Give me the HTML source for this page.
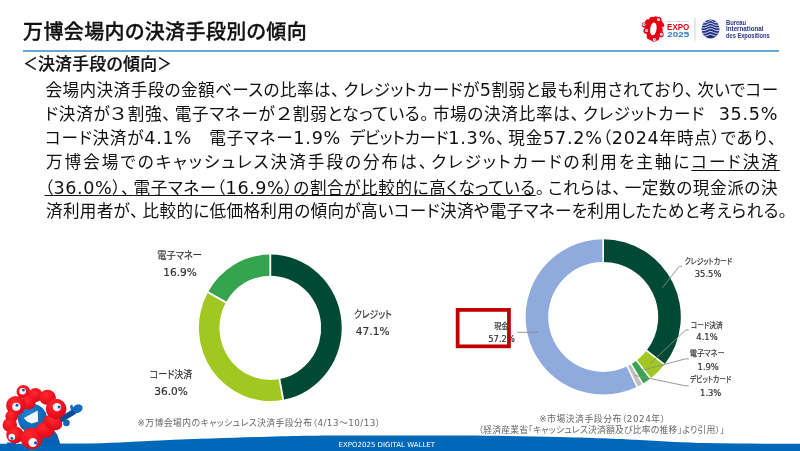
<!DOCTYPE html>
<html lang="ja">
<head>
<meta charset="utf-8">
<title>万博会場内の決済手段別の傾向</title>
<style>
html,body{margin:0;padding:0;background:#fff;}
body{width:800px;height:451px;overflow:hidden;position:relative;font-family:"Liberation Sans","Noto Sans CJK JP",sans-serif;color:#111;}
.abs{position:absolute;white-space:nowrap;}
#title{left:23px;top:17px;font-size:20px;line-height:30px;font-weight:500;-webkit-text-stroke:0.3px #111;letter-spacing:0.4px;font-feature-settings:"palt";color:#111;}
#rule{left:22.8px;top:50px;width:755.8px;height:2px;background:#68a6d8;}
#sub{left:23.2px;top:53px;letter-spacing:0.25px;font-size:16.9px;line-height:24px;font-weight:500;-webkit-text-stroke:0.2px #111;font-feature-settings:"palt";}
#sub .b{display:inline-block;transform:scaleX(0.85);margin:0 -1.2px;}
.ln{left:45px;font-size:16.6px;line-height:24px;height:24px;font-family:"DejaVu Sans","Noto Sans CJK JP",sans-serif;font-feature-settings:"palt";color:#111;}
.c{letter-spacing:4px;}
.fw{font-feature-settings:normal;display:inline-block;transform:scale(1.25,1.06);}
.d{font-size:17.6px;}
.u{text-decoration:underline;text-decoration-thickness:1px;text-underline-offset:2px;}
#l5 .u{text-underline-offset:0.5px;}
.lb{width:120px;margin-left:-60px;height:14px;line-height:14px;text-align:center;color:#333;-webkit-text-stroke:0.2px #333;font-family:"DejaVu Sans","Noto Sans CJK JP",sans-serif;font-feature-settings:"palt";}
.lb span{display:inline-block;transform-origin:50% 50%;}
.nt{width:400px;margin-left:-200px;height:14px;line-height:14px;text-align:center;color:#666;font-size:8.8px;font-family:"DejaVu Sans","Noto Sans CJK JP",sans-serif;font-feature-settings:"palt";}
.nt span{display:inline-block;}
</style>
</head>
<body>
<div id="title" class="abs">万博会場内の決済手段別の傾向</div>
<div id="rule" class="abs"></div>
<div id="sub" class="abs"><span class="b">＜</span>決済手段の傾向<span class="b">＞</span></div>

<div class="abs ln" id="l1" style="top:78px;left:45.6px;letter-spacing:0.413px">会場内決済手段の金額ベースの比率は<span class="c">、</span>クレジットカードが<span class="d">5</span>割弱と最も利用されており<span class="c">、</span>次いでコー</div>
<div class="abs ln" id="l2" style="top:102px;left:45.0px;letter-spacing:0.717px">ド決済が<span class="fw">３</span>割強<span class="c">、</span>電子マネーが<span class="fw">２</span>割弱となっている<span class="c">。</span>市場の決済比率は<span class="c">、</span>クレジットカード<span style="letter-spacing:-3px">　</span><span class="d">35.5%</span></div>
<div class="abs ln" id="l3" style="top:126px;left:45.0px;letter-spacing:0.755px">コード決済が<span class="d">4.1%</span>　電子マネー<span class="d">1.9%</span><span style="letter-spacing:-8px">　</span><span style="letter-spacing:-0.4px">デビットカード</span><span class="d">1.3%</span><span class="c">、</span>現金<span class="d">57.2%</span>（<span class="d">2024</span>年時点）であり<span class="c">、</span></div>
<div class="abs ln" id="l4" style="top:151px;left:46.0px;letter-spacing:2.010px">万博会場でのキャッシュレス決済手段の分布は<span class="c">、</span>クレジットカードの利用を主軸に<span class="u">コード決済</span></div>
<div class="abs ln" id="l5" style="top:176px;left:44.6px;letter-spacing:0.585px"><span class="u">（<span class="d">36.0%</span>）<span class="c">、</span>電子マネー（<span class="d">16.9%</span>）の割合が比較的に高くなっている</span><span class="c">。</span>これらは<span class="c">、</span>一定数の現金派の決</div>
<div class="abs ln" id="l6" style="top:200px;left:46.0px;letter-spacing:0.323px">済利用者が<span class="c">、</span>比較的に低価格利用の傾向が高いコード決済や電子マネーを利用したためと考えられる<span class="c">。</span></div>

<svg class="abs" style="left:0;top:0" width="800" height="451" viewBox="0 0 800 451">
  <!--DONUTS-->
  <path d="M270.30,254.60 A71.4,73.2 0 0 1 283.24,399.79 L279.51,379.04 A50.85,52.1 0 0 0 270.30,275.70 Z" fill="#004932"/>
  <path d="M283.24,399.79 A71.4,73.2 0 0 1 207.95,292.13 L225.89,302.41 A50.85,52.1 0 0 0 279.51,379.04 Z" fill="#a1c820"/>
  <path d="M207.95,292.13 A71.4,73.2 0 0 1 270.30,254.60 L270.30,275.70 A50.85,52.1 0 0 0 225.89,302.41 Z" fill="#34a44e"/>
  <line x1="270.30" y1="253.60" x2="270.30" y2="276.70" stroke="#fff" stroke-width="1.8"/>
  <line x1="283.42" y1="400.77" x2="279.33" y2="378.05" stroke="#fff" stroke-width="1.8"/>
  <line x1="207.08" y1="291.65" x2="226.77" y2="302.90" stroke="#fff" stroke-width="1.8"/>
  <path d="M603.20,239.30 A77.6,77.6 0 0 1 664.52,364.46 L646.66,350.61 A55.0,55.0 0 0 0 603.20,261.90 Z" fill="#004932"/>
  <path d="M664.52,364.46 A77.6,77.6 0 0 1 650.38,378.51 L636.64,360.57 A55.0,55.0 0 0 0 646.66,350.61 Z" fill="#a1c820"/>
  <path d="M650.38,378.51 A77.6,77.6 0 0 1 642.70,383.69 L631.20,364.24 A55.0,55.0 0 0 0 636.64,360.57 Z" fill="#34a44e"/>
  <path d="M642.70,383.69 A77.6,77.6 0 0 1 637.12,386.69 L627.24,366.37 A55.0,55.0 0 0 0 631.20,364.24 Z" fill="#bfbfbf"/>
  <path d="M637.12,386.69 A77.6,77.6 0 1 1 603.20,239.30 L603.20,261.90 A55.0,55.0 0 1 0 627.24,366.37 Z" fill="#8faadc"/>
  <line x1="603.20" y1="238.30" x2="603.20" y2="262.90" stroke="#fff" stroke-width="1.6"/>
  <line x1="665.31" y1="365.07" x2="645.87" y2="350.00" stroke="#fff" stroke-width="1.6"/>
  <line x1="650.98" y1="379.31" x2="636.03" y2="359.78" stroke="#fff" stroke-width="1.6"/>
  <line x1="643.21" y1="384.55" x2="630.69" y2="363.38" stroke="#fff" stroke-width="1.6"/>
  <line x1="637.56" y1="387.59" x2="626.80" y2="365.47" stroke="#fff" stroke-width="1.6"/>
  <!--/DONUTS-->
  <!-- leader lines -->
  <g fill="none" stroke="#8c8c8c" stroke-width="0.9">
    <polyline points="682,266.3 679.3,266.3 662.5,287.7"/>
    <polyline points="688.8,329.9 685.8,329.9 649.9,363.8"/>
    <polyline points="688.8,358.9 685.4,358.9 639.9,370.8"/>
    <polyline points="688.8,385.8 685.4,385.8 635,375.4"/>
    <polyline points="517.2,332.3 538.2,332.3"/>
  </g>
  <!--ART-->
  <g fill="#e60012"><circle cx="652.0" cy="19.6" r="2.8"/><circle cx="658.4" cy="20.0" r="3.2"/><circle cx="661.8" cy="25.2" r="2.4"/><circle cx="660.0" cy="30.0" r="2.8"/><circle cx="660.8" cy="34.4" r="2.9"/><circle cx="656.4" cy="38.0" r="2.8"/><circle cx="654.0" cy="39.4" r="2.4"/><circle cx="649.6" cy="36.4" r="2.9"/><circle cx="646.4" cy="30.8" r="3.0"/><circle cx="644.4" cy="24.8" r="2.6"/><circle cx="648.0" cy="22.0" r="2.8"/><circle cx="647.2" cy="27.2" r="2.4"/><circle cx="655.6" cy="18.4" r="2.2"/><circle cx="659.2" cy="27.2" r="2.2"/><circle cx="651.2" cy="38.4" r="2.2"/><circle cx="660.8" cy="22.8" r="2.0"/></g><ellipse cx="653.4" cy="29" rx="7.6" ry="10.2" fill="#e60012" transform="rotate(10 653.4 29)"/><ellipse cx="653.4" cy="28.9" rx="3.2" ry="6.5" fill="#fff" transform="rotate(8 653.4 28.9)"/><circle cx="658.6" cy="19.4" r="1.5" fill="#fff"/><circle cx="658.9" cy="19.3" r="0.7" fill="#2a7fd0"/><circle cx="661.4" cy="34.2" r="1.5" fill="#fff"/><circle cx="661.7" cy="34.1" r="0.7" fill="#2a7fd0"/><circle cx="654.4" cy="39.4" r="1.5" fill="#fff"/><circle cx="654.7" cy="39.3" r="0.7" fill="#2a7fd0"/><circle cx="646.6" cy="30.6" r="1.5" fill="#fff"/><circle cx="646.9" cy="30.5" r="0.7" fill="#2a7fd0"/><circle cx="644.0" cy="24.6" r="1.5" fill="#fff"/><circle cx="644.3" cy="24.5" r="0.7" fill="#2a7fd0"/>
  <text x="667.3" y="22.2" font-family="Liberation Sans, sans-serif" font-size="1.9" fill="#777" textLength="21.6" lengthAdjust="spacingAndGlyphs">OSAKA, KANSAI, JAPAN</text>
  <text x="667.1" y="29.6" font-family="Liberation Sans, sans-serif" font-weight="bold" font-size="8.3" fill="#e60012" textLength="22.2" lengthAdjust="spacingAndGlyphs">EXPO</text>
  <text x="667.3" y="36.5" font-family="Liberation Sans, sans-serif" font-weight="bold" font-size="7.4" fill="#2b78c5" textLength="21.9" lengthAdjust="spacingAndGlyphs">2025</text>
  <rect x="694.5" y="17.6" width="1" height="23.2" fill="#d4d4d4"/>
  <clipPath id="biec"><ellipse cx="710.5" cy="29" rx="9" ry="9.5"/></clipPath>
  <ellipse cx="710.5" cy="29" rx="9" ry="9.5" fill="#1f2f87"/>
  <g clip-path="url(#biec)" fill="none" stroke="#fff" stroke-width="0.85">
    <path d="M700,22.6 H706.5 C708,22.6 708.5,20.6 710.5,20.6 C712.5,20.6 713,22.6 714.5,22.6 H721"/>
    <path d="M700,25.2 H705.5 C707.5,25.2 708.3,23.2 710.5,23.2 C712.7,23.2 713.5,25.2 715.5,25.2 H721"/>
    <path d="M700,27.9 H704.5 C707,27.9 708,25.9 710.5,25.9 C713,25.9 714,27.9 716.5,27.9 H721"/>
    <path d="M700,30.6 H704 C706.5,30.6 707.8,28.6 710.5,28.6 C713.2,28.6 714.5,30.6 717,30.6 H721"/>
    <path d="M700,33.3 H704.5 C707,33.3 708,31.5 710.5,31.5 C713,31.5 714,33.3 716.5,33.3 H721"/>
    <path d="M700,36 H705.5 C707.5,36 708.5,34.4 710.5,34.4 C712.5,34.4 713.5,36 715.5,36 H721"/>
  </g>
  <g font-family="Liberation Sans, sans-serif" font-weight="bold" font-size="6.3" fill="#28348a">
    <text x="726" y="25" textLength="20.2" lengthAdjust="spacingAndGlyphs">Bureau</text>
    <text x="726" y="31.4" textLength="37.5" lengthAdjust="spacingAndGlyphs">International</text>
    <text x="726" y="37.9" textLength="43.7" lengthAdjust="spacingAndGlyphs">des Expositions</text>
  </g>
  <path d="M0,443.7 L90,443.5 C120,442.6 140,441.4 160,440.5 C200,438.9 230,437.9 260,437 C300,435.9 320,435.6 345,435.6 L460,435.5 C500,435.6 530,436.2 560,437 C600,438 622,439 640,440 C665,441.4 685,442.6 705,443.1 C740,443.7 770,443.7 800,443.7 L800,451 L0,451 Z" fill="#0068b8"/>
  <defs><radialGradient id="rb" cx="40%" cy="32%" r="75%"><stop offset="0" stop-color="#ff2a2c"/><stop offset="0.6" stop-color="#ee1220"/><stop offset="1" stop-color="#cf0a18"/></radialGradient><radialGradient id="bb" cx="40%" cy="35%" r="75%"><stop offset="0" stop-color="#1f86d6"/><stop offset="1" stop-color="#0058a8"/></radialGradient></defs>
  <polygon points="36.9,427.5 52.0,427.5 57.0,434.3 60.6,444.8 36.9,444.8" fill="#0a60b0"/>
  <polygon points="6.8,442.6 15.8,442.6 16.6,449.3 9.0,449.3" fill="#0a60b0"/>
  <line x1="58.3" y1="421.2" x2="73.8" y2="411.8" stroke="#0d4a94" stroke-width="5.6" stroke-linecap="round"/>
  <ellipse cx="77.6" cy="408.7" rx="5.2" ry="4.1" fill="#0f6cc2" transform="rotate(-25 77.6 408.7)"/>
  <ellipse cx="71.7" cy="407.6" rx="1.5" ry="3" fill="#0f6cc2" transform="rotate(-10 71.7 407.6)"/>
  <circle cx="66.4" cy="422.9" r="3.3" fill="#1267b8"/>
  <circle cx="32.4" cy="418.4" r="14.5" fill="url(#bb)"/>
  <polygon points="23.8,418.0 37.7,410.4 38.1,421.4 31.7,423.4 27.1,421.6" fill="#f4f6f8"/>
  <ellipse cx="23.4" cy="391.7" rx="6.90" ry="6.74" fill="url(#rb)"/>
  <ellipse cx="35.4" cy="395.1" rx="7.07" ry="7.07" fill="url(#rb)"/>
  <ellipse cx="47.5" cy="397.3" rx="8.38" ry="7.56" fill="url(#rb)"/>
  <ellipse cx="28.6" cy="402.6" rx="7.07" ry="7.07" fill="url(#rb)"/>
  <ellipse cx="15.8" cy="405.6" rx="9.70" ry="9.70" fill="url(#rb)"/>
  <ellipse cx="11.8" cy="416.2" rx="6.41" ry="6.08" fill="url(#rb)"/>
  <ellipse cx="9.8" cy="424.9" rx="7.23" ry="7.07" fill="url(#rb)"/>
  <ellipse cx="15.1" cy="435.0" rx="8.87" ry="8.38" fill="url(#rb)"/>
  <ellipse cx="31.7" cy="438.5" rx="10.85" ry="10.68" fill="url(#rb)"/>
  <ellipse cx="45.2" cy="430.0" rx="9.37" ry="8.05" fill="url(#rb)"/>
  <ellipse cx="52.8" cy="422.5" rx="9.86" ry="7.07" fill="url(#rb)" transform="rotate(25 52.8 422.5)"/>
  <ellipse cx="56.1" cy="408.9" rx="10.35" ry="10.19" fill="url(#rb)"/>
  <circle cx="22.6" cy="391.3" r="3.3" fill="#f6f8fb"/><circle cx="23.4" cy="390.2" r="1.4" fill="#1558c0"/>
  <circle cx="16.3" cy="406.8" r="4.1" fill="#f6f8fb"/><circle cx="17.0" cy="405.3" r="1.5" fill="#1558c0"/>
  <circle cx="57.0" cy="407.1" r="4.2" fill="#f6f8fb"/><circle cx="59.1" cy="407.1" r="1.5" fill="#1558c0"/>
  <circle cx="32.9" cy="442.6" r="4.5" fill="#f6f8fb"/><circle cx="35.7" cy="442.9" r="1.7" fill="#1558c0"/>
  <circle cx="11.8" cy="437.0" r="3.3" fill="#f6f8fb"/><circle cx="11.8" cy="438.5" r="1.4" fill="#1558c0"/>
  <!--/ART-->
</svg>

<!-- chart labels -->
<div class="abs lb" id="lbA" style="left:179.7px;top:248.3px;font-size:10.6px"><span style="transform:scaleX(0.875)">電子マネー</span></div>
<div class="abs lb" id="lbB" style="left:180px;top:265.2px;font-size:10.6px"><span style="transform:scaleX(1)">16.9%</span></div>
<div class="abs lb" id="lbC" style="left:373px;top:306.7px;font-size:10.6px"><span style="transform:scaleX(0.83)">クレジット</span></div>
<div class="abs lb" id="lbD" style="left:372.7px;top:324.0px;font-size:10.6px"><span style="transform:scaleX(1)">47.1%</span></div>
<div class="abs lb" id="lbE" style="left:170.9px;top:367.2px;font-size:10.6px"><span style="transform:scaleX(0.847)">コード決済</span></div>
<div class="abs lb" id="lbF" style="left:171px;top:384.0px;font-size:10.6px"><span style="transform:scaleX(1)">36.0%</span></div>
<div class="abs lb" id="lbG" style="left:708px;top:253.6px;font-size:8.4px"><span style="transform:scaleX(0.81)">クレジットカード</span></div>
<div class="abs lb" id="lbH" style="left:708.1px;top:266.7px;font-size:8.4px"><span style="transform:scaleX(1)">35.5%</span></div>
<div class="abs lb" id="lbI" style="left:706.5px;top:317.5px;font-size:8.4px"><span style="transform:scaleX(0.8)">コード決済</span></div>
<div class="abs lb" id="lbJ" style="left:707px;top:330.3px;font-size:8.4px"><span style="transform:scaleX(1)">4.1%</span></div>
<div class="abs lb" id="lbK" style="left:707.5px;top:346.4px;font-size:8.4px"><span style="transform:scaleX(0.86)">電子マネー</span></div>
<div class="abs lb" id="lbL" style="left:708.2px;top:360.2px;font-size:8.4px"><span style="transform:scaleX(1)">1.9%</span></div>
<div class="abs lb" id="lbM" style="left:710.1px;top:372.3px;font-size:8.4px"><span style="transform:scaleX(0.81)">デビットカード</span></div>
<div class="abs lb" id="lbN" style="left:710.7px;top:386px;font-size:8.4px"><span style="transform:scaleX(1)">1.3%</span></div>
<div class="abs lb" id="lbO" style="left:501.6px;top:318.9px;font-size:8.4px"><span style="transform:scaleX(0.85)">現金</span></div>
<div class="abs lb" id="lbP" style="left:501.6px;top:332.2px;font-size:8.4px"><span style="transform:scaleX(1)">57.2%</span></div>
<svg class="abs" style="left:0;top:0" width="800" height="451" viewBox="0 0 800 451"><rect x="457.65" y="309.9" width="51.3" height="36.45" fill="none" stroke="#c00000" stroke-width="3.75"/></svg>

<div class="abs nt" id="n1" style="left:259.1px;top:416px"><span style="letter-spacing:0.45px">※万博会場内のキャッシュレス決済手段分布（4/13～10/13）</span></div>
<div class="abs nt" id="n2" style="left:602.4px;top:411.5px"><span style="letter-spacing:0.55px">※市場決済手段分布（2024年）</span></div>
<div class="abs nt" id="n3" style="left:601.7px;top:422.5px"><span style="letter-spacing:0.23px">（経済産業省「キャッシュレス決済額及び比率の推移」より引用）」</span></div>
<div class="abs" id="ft" style="left:338.6px;top:440px;font-size:7px;line-height:10px;color:#fff;font-family:'DejaVu Sans',sans-serif;">EXPO2025 DIGITAL WALLET</div>
</body>
</html>
